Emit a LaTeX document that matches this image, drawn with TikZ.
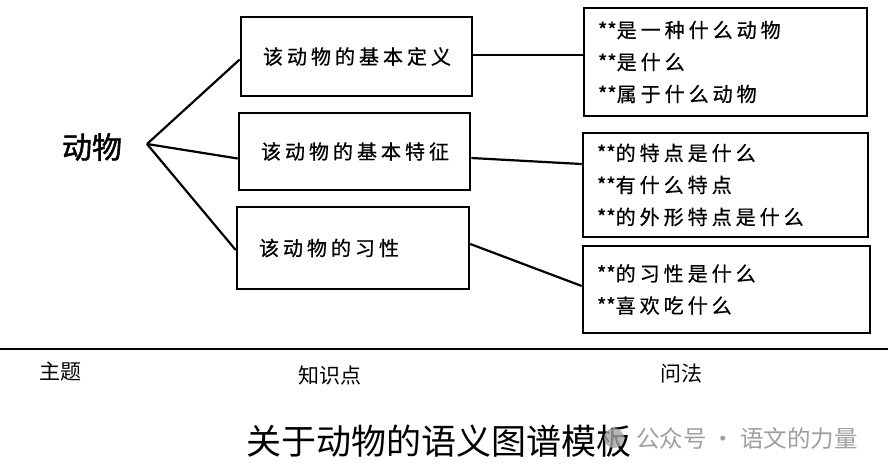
\documentclass[tikz,border=0pt]{standalone}
\usepackage{fontspec}
\newfontfamily\cjk{Noto Sans CJK SC}
\newfontfamily\cjkbox[LetterSpace=20,FakeBold=0.6]{Noto Sans CJK SC}
\newfontfamily\cjkstar[FakeBold=1]{Noto Sans CJK SC}
\newfontfamily\cjkbold[FakeBold=1.5]{Noto Sans CJK SC}
\newcommand{\stars}{{\cjkstar **}}
\begin{document}
\begin{tikzpicture}[x=1pt,y=-1pt,
  lbox/.style={draw,line width=2.6pt,inner sep=0pt,align=left,font=\cjkbox\fontsize{20}{32}\selectfont},
  rbox/.style={draw,line width=2.6pt,inner sep=0pt,align=left,font=\cjkbox\fontsize{20}{32}\selectfont},
  link/.style={line width=2.2pt},
  foot/.style={font=\cjk\fontsize{21}{24}\selectfont}]
\useasboundingbox (0,0) rectangle (888,475);
\fill[white] (0,0) rectangle (888,475);

\node[font=\cjkbold\fontsize{30}{32}\selectfont] (animal) at (92,147) {动物};
\coordinate (root) at (147,144);

\node[lbox,minimum width=231pt,minimum height=79pt,text width=187pt] (k1) at (356.5,56.5) {该动物的基本定义};
\node[lbox,minimum width=231pt,minimum height=77pt,text width=187pt] (k2) at (354.5,151.5) {该动物的基本特征};
\node[lbox,minimum width=232pt,minimum height=82pt,text width=188pt] (k3) at (353,248) {该动物的习性};

\node[rbox,minimum width=283pt,minimum height=108pt,text width=255pt] (q1) at (725.5,62) {\stars 是一种什么动物\\ \stars 是什么\\ \stars 属于什么动物};
\node[rbox,minimum width=285pt,minimum height=104pt,text width=257pt] (q2) at (725.5,185) {\stars 的特点是什么\\ \stars 有什么特点\\ \stars 的外形特点是什么};
\node[rbox,minimum width=287pt,minimum height=87pt,text width=259pt] (q3) at (726.5,289.5) {\stars 的习性是什么\\ \stars 喜欢吃什么};

\draw[link] (root) -- ([yshift=-3pt]k1.west);
\draw[link] (root) -- ([yshift=-7pt]k2.west);
\draw[link] (root) -- ([yshift=-2pt]k3.west);

\draw[link] ([yshift=1.5pt]k1.east) -- ([yshift=7pt]q1.west);
\draw[link] ([yshift=-6.5pt]k2.east) -- ([yshift=21pt]q2.west);
\draw[link] ([yshift=4pt]k3.east) -- ([yshift=3.5pt]q3.west);

\coordinate (hl) at (0,349);
\coordinate (hr) at (888,349);
\draw[line width=1.4pt] (hl) -- (hr);

\node[foot] (t1) at (60,372) {主题};
\node[foot] (t2) at (330,375) {知识点};
\node[foot] (t3) at (681,374) {问法};

\node[font=\cjk\fontsize{35}{38}\selectfont] (title) at (439,441) {关于动物的语义图谱模板};
\fill[gray!70,opacity=0.8] (614,438) circle (10pt);
\node[font=\cjk\fontsize{23.5}{26}\selectfont,text=gray!75,anchor=west,inner xsep=0pt] (wm) at (636,439) {公众号\hspace{5pt}·\hspace{5pt}语文的力量};
\end{tikzpicture}
\end{document}
